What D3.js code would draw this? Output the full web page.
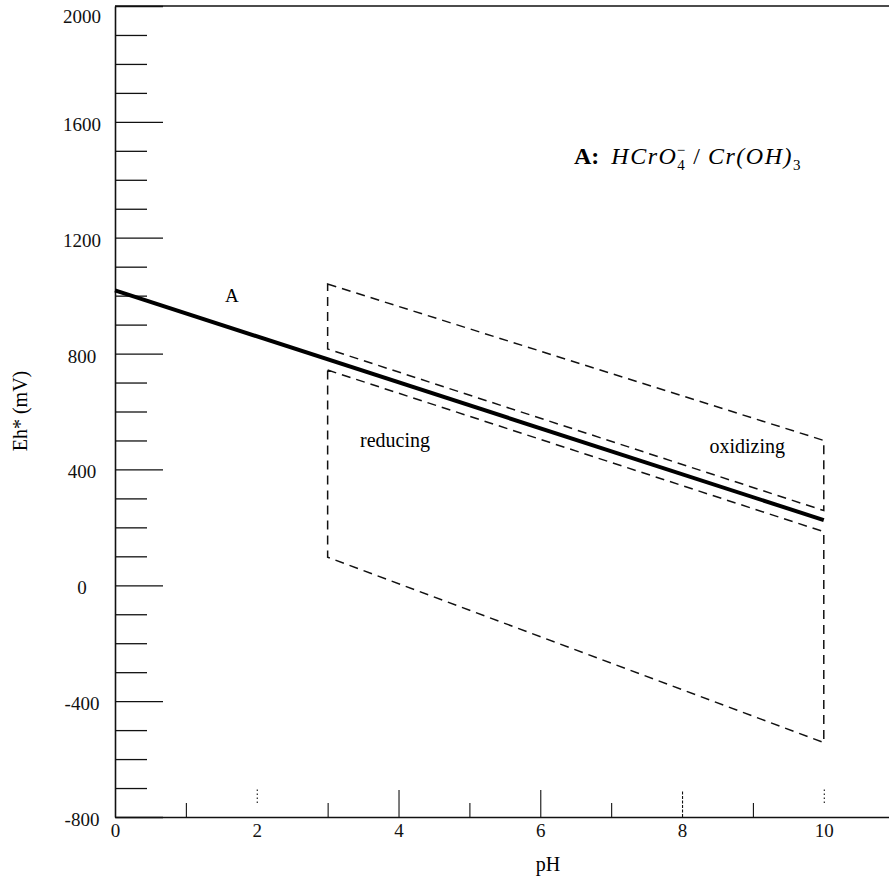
<!DOCTYPE html>
<html>
<head>
<meta charset="utf-8">
<script src="https://cdn.jsdelivr.net/npm/d3@7"></script>
<style>
  body { margin: 0; background: #fff; }
  svg { display: block; font-family: "Liberation Serif", "DejaVu Serif", serif; }
  .axis path, .axis line { stroke: #111; }
</style>
</head>
<body>
<svg id="chart" width="889" height="877"></svg>
<script>
// ---- data ----
var lineA_pH = [0, 10];
var lineA_Eh = [1018, 225];

// dashed "oxidizing" box (upper) and "reducing" box (lower), corners in order
var oxBox_pH = [3, 10, 10, 3];
var oxBox_Eh = [1040, 500, 258, 816];
var redBox_pH = [3, 10, 10, 3];
var redBox_Eh = [743, 185, -543, 97];

var yMajorTicks = [-800, -400, 0, 400, 800, 1200, 1600, 2000];
var yMinorTicks = d3.range(-700, 2000, 100).filter(function(v) { return v % 400 !== 0; });
var xMajorTicks = [0, 2, 4, 6, 8, 10];
var xMinorTicks = [1, 3, 5, 7, 9];

// ---- scales ----
var svg = d3.select("#chart");
var x = d3.scaleLinear().domain([0, 10.92]).range([115, 889]);
var y = d3.scaleLinear().domain([-800, 2000]).range([817, 6]);

function plainNum(d) { return String(d); } // keeps ASCII hyphen, no thousands comma

// ---- y axis: minor ticks, then major ticks with labels ----
svg.append("g")
  .attr("class", "axis")
  .attr("transform", "translate(" + x(0) + ",0)")
  .call(d3.axisLeft(y).tickValues(yMinorTicks).tickSize(-32).tickSizeOuter(0).tickFormat(""))
  .call(function(g) { g.select(".domain").remove(); })
  .selectAll("line").attr("stroke-width", 1.3);

var yAxis = svg.append("g")
  .attr("class", "axis")
  .attr("transform", "translate(" + x(0) + ",0)")
  .call(d3.axisLeft(y).tickValues(yMajorTicks).tickSize(-48).tickSizeOuter(0)
        .tickPadding(0).tickFormat(plainNum));
yAxis.attr("font-family", null).attr("font-size", null);
yAxis.select(".domain").attr("stroke-width", 1.6);
yAxis.selectAll("line").attr("stroke-width", 1.3);
yAxis.selectAll("text")
  .attr("text-anchor", "middle")
  .attr("font-size", 19)
  .attr("fill", "#111")
  .attr("x", -33)
  .attr("dy", function(d) { return d === 2000 ? "0.85em" : "0.45em"; });

// ---- x axis ----
var xAxis = svg.append("g")
  .attr("class", "axis")
  .attr("transform", "translate(0," + y(-800) + ")")
  .call(d3.axisBottom(x).tickValues(xMajorTicks).tickSize(-27).tickSizeOuter(0)
        .tickPadding(5).tickFormat(plainNum));
xAxis.attr("font-family", null).attr("font-size", null);
xAxis.select(".domain").attr("stroke-width", 1.6);
xAxis.selectAll(".tick line")
  .attr("stroke-width", 1.1)
  .attr("stroke-dasharray", function(d) { return (d === 2 || d === 10) ? "1.5,2.5" : (d === 8 ? "3,1.5" : null); })
  .attr("y2", function(d) { return (d === 2 || d === 10) ? -14 : -27; })
  .attr("transform", function(d) { return (d === 2 || d === 10) ? "translate(0,-14)" : null; });
xAxis.selectAll(".tick")
  .filter(function(d) { return d === 0; })
  .select("line").remove();
xAxis.selectAll("text")
  .attr("font-size", 19)
  .attr("fill", "#111")
  .attr("dy", "0.8em");

svg.append("g")
  .attr("class", "axis")
  .attr("transform", "translate(0," + y(-800) + ")")
  .call(d3.axisBottom(x).tickValues(xMinorTicks).tickSize(-14).tickSizeOuter(0).tickFormat(""))
  .call(function(g) { g.select(".domain").remove(); })
  .selectAll("line").attr("stroke-width", 1.1);

// top frame line
svg.append("line")
  .attr("x1", x(0)).attr("x2", x(10.92))
  .attr("y1", y(2000)).attr("y2", y(2000))
  .attr("stroke", "#111").attr("stroke-width", 1.6);

// ---- dashed boxes ----
function boxPoints(ph, eh) {
  return ph.map(function(p, i) { return [x(p), y(eh[i])]; });
}
var boxLine = d3.line().curve(d3.curveLinearClosed);
[[oxBox_pH, oxBox_Eh], [redBox_pH, redBox_Eh]].forEach(function(b) {
  svg.append("path")
    .attr("d", boxLine(boxPoints(b[0], b[1])))
    .attr("fill", "none")
    .attr("stroke", "#111")
    .attr("stroke-width", 1.5)
    .attr("stroke-dasharray", "9,6");
});

// ---- line A ----
svg.append("path")
  .attr("d", d3.line()(lineA_pH.map(function(p, i) { return [x(p), y(lineA_Eh[i])]; })))
  .attr("fill", "none")
  .attr("stroke", "#000")
  .attr("stroke-width", 4);

// ---- labels ----
svg.append("text").attr("x", x(1.65)).attr("y", y(1000)).attr("dy", "0.35em")
  .attr("text-anchor", "middle").attr("font-size", 19).text("A");
svg.append("text").attr("x", x(3.95)).attr("y", y(500)).attr("dy", "0.35em")
  .attr("text-anchor", "middle").attr("font-size", 20).text("reducing");
svg.append("text").attr("x", x(8.92)).attr("y", y(480)).attr("dy", "0.35em")
  .attr("text-anchor", "middle").attr("font-size", 20).text("oxidizing");

// title formula
var title = svg.append("text").attr("x", 574).attr("y", 164).attr("font-size", 24);
title.append("tspan").attr("font-weight", "bold").text("A:");
title.append("tspan").attr("dx", 12).attr("font-style", "italic")
  .attr("letter-spacing", 1.5).text("HCrO");
title.append("tspan").attr("font-size", 15).attr("dy", 6).text("4");
title.append("tspan").attr("font-size", 15).attr("dx", -8).attr("dy", -15).text("\u2212");
title.append("tspan").attr("dy", 9).attr("dx", 8).text("/");
title.append("tspan").attr("dx", 8).attr("font-style", "italic").attr("letter-spacing", 1.5).text("Cr(OH)");
title.append("tspan").attr("font-size", 15).attr("dy", 6).text("3");

// axis titles
svg.append("text")
  .attr("transform", "translate(27," + 411 + ") rotate(-90)")
  .attr("text-anchor", "middle").attr("font-size", 20).text("Eh* (mV)");
svg.append("text").attr("x", 548).attr("y", 871)
  .attr("text-anchor", "middle").attr("font-size", 20).text("pH");
</script>
</body>
</html>
